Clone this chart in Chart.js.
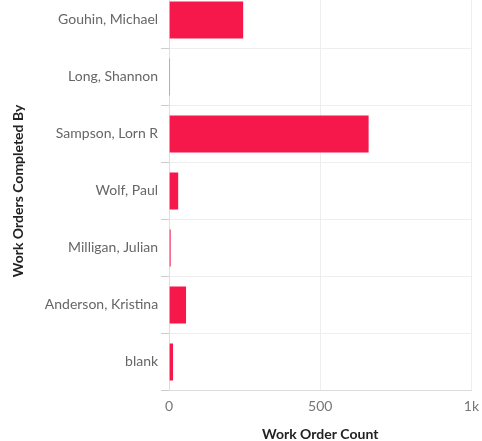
<!DOCTYPE html>
<html>
<head>
<meta charset="utf-8">
<script src="https://cdn.jsdelivr.net/npm/chart.js@4/dist/chart.umd.min.js"></script>
<style>
  html, body { margin:0; padding:0; background:#fff; overflow:hidden; }
  #wrap { position:absolute; left:0; top:-20px; width:487px; height:463px; }
</style>
</head>
<body>
<div id="wrap"><canvas id="c"></canvas></div>
<script>
const technicians = ["Gouhin, Michael","Long, Shannon","Sampson, Lorn R","Wolf, Paul","Milligan, Julian","Anderson, Kristina","blank"];
const workOrderCounts = [245, 3, 660, 30, 5, 56, 13];
const tickValues = [0, 500, 1000];
const tickLabels = ["0", "500", "1k"];

const grey = "#eeeeee";
new Chart(document.getElementById("c"), {
  type: "bar",
  data: {
    labels: technicians,
    datasets: [{ data: workOrderCounts, backgroundColor: "#f7184b", borderWidth: 0, barPercentage: 0.65, categoryPercentage: 1 }],
  },
  options: {
    indexAxis: "y", responsive: true, maintainAspectRatio: false, animation: false,
    layout: { padding: { left: 10, right: 5, top: 0, bottom: 0 } },
    plugins: { legend: { display: false }, tooltip: { enabled: false } },
    scales: {
      x: {
        min: 0, max: 1000,
        afterBuildTicks: s => { s.ticks = tickValues.map(v => ({ value: v })); },
        ticks: { callback: (v) => tickLabels[tickValues.indexOf(v)], color: "#777", font: { family: "Lato", size: 14 }, padding: 8, maxRotation: 0 },
        grid: { color: grey, drawTicks: false },
        border: { color: "#dddddd" },
        title: { display: true, text: "Work Order Count", color: "#222", font: { family: "Lato", size: 14, weight: "bold" }, padding: { top: 3, bottom: 0 } },
      },
      y: {
        ticks: { color: "#666", font: { family: "Lato", size: 14 }, padding: 3 },
        grid: { color: grey, tickColor: "#cccccc", tickLength: 8 },
        border: { color: "#dddddd" },
        title: { display: true, text: "Work Orders Completed By", color: "#222", font: { family: "Lato", size: 14, weight: "bold" }, padding: { top: 0, bottom: 15 } },
      },
    },
  },
});
</script>
</body>
</html>
